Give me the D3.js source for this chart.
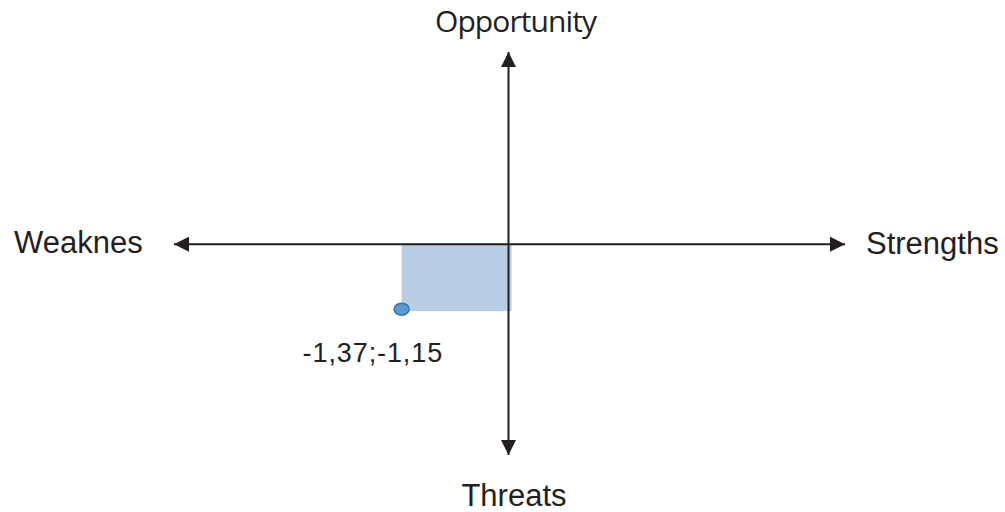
<!DOCTYPE html>
<html>
<head>
<meta charset="utf-8">
<script src="https://cdn.jsdelivr.net/npm/d3@7"></script>
<style>
  body { margin: 0; background: #fff; }
  text { font-family: "Liberation Sans", Arial, sans-serif; fill: #231f20; }
</style>
</head>
<body>
<script>
// dimensions de la page
const largeur = 1005;
const hauteur = 512;

// extremites des axes (en unites de score)
const axeX = [-4.26, 4.26];
const axeY = [-3.73, 3.40];

// libelles des quatre directions
const libelles = ["Opportunity", "Strengths", "Threats", "Weaknes"];

// position strategique (IFAS ; EFAS)
const pointX = [-1.37];
const pointY = [-1.15];
const etiquettes = ["-1,37;-1,15"];

const x = d3.scaleLinear().domain(axeX).range([174, 845]);
const y = d3.scaleLinear().domain(axeY).range([455, 52]);

const svg = d3.select("body").append("svg")
    .attr("width", largeur)
    .attr("height", hauteur);

// pointe de fleche
svg.append("defs").append("marker")
    .attr("id", "fleche")
    .attr("viewBox", "0 0 10 10")
    .attr("refX", 10)
    .attr("refY", 5)
    .attr("markerUnits", "userSpaceOnUse")
    .attr("markerWidth", 15)
    .attr("markerHeight", 15)
    .attr("orient", "auto")
  .append("path")
    .attr("d", "M0,0 L10,5 L0,10 Z")
    .attr("fill", "#231f20");

// rectangle du quadrant
svg.append("rect")
    .attr("x", x(pointX[0]))
    .attr("y", y(0) - 1)
    .attr("width", x(0) - x(pointX[0]) + 2)
    .attr("height", y(pointY[0]) - y(0) + 3)
    .attr("fill", "#b9cde5");

// axe horizontal
svg.append("line")
    .attr("x1", x(0)).attr("y1", y(0))
    .attr("x2", x(axeX[1])).attr("y2", y(0))
    .attr("stroke", "#231f20").attr("stroke-width", 2)
    .attr("marker-end", "url(#fleche)");
svg.append("line")
    .attr("x1", x(0)).attr("y1", y(0))
    .attr("x2", x(axeX[0])).attr("y2", y(0))
    .attr("stroke", "#231f20").attr("stroke-width", 2)
    .attr("marker-end", "url(#fleche)");

// axe vertical
svg.append("line")
    .attr("x1", x(0) - 1).attr("y1", y(0))
    .attr("x2", x(0) - 1).attr("y2", y(axeY[1]))
    .attr("stroke", "#231f20").attr("stroke-width", 2)
    .attr("marker-end", "url(#fleche)");
svg.append("line")
    .attr("x1", x(0) - 1).attr("y1", y(0))
    .attr("x2", x(0) - 1).attr("y2", y(axeY[0]))
    .attr("stroke", "#231f20").attr("stroke-width", 2)
    .attr("marker-end", "url(#fleche)");

// point
svg.selectAll("ellipse.point")
    .data(pointX)
  .enter().append("ellipse")
    .attr("class", "point")
    .attr("cx", (d, i) => x(d))
    .attr("cy", (d, i) => y(pointY[i]))
    .attr("rx", 7.5)
    .attr("ry", 6)
    .attr("fill", "#5b9bd5")
    .attr("stroke", "#41719c")
    .attr("stroke-width", 1.5);

svg.selectAll("text.etiquette")
    .data(etiquettes)
  .enter().append("text")
    .attr("class", "etiquette")
    .attr("x", (d, i) => x(pointX[i]) - 99)
    .attr("y", (d, i) => y(pointY[i]) + 53)
    .attr("font-size", 27)
    .attr("letter-spacing", 0.9)
    .text(d => d);

// libelles des axes
svg.append("text")
    .attr("x", 516).attr("y", 32)
    .attr("text-anchor", "middle")
    .attr("font-size", 30)
    .style("font-family", "'Open Sans', sans-serif")
    .attr("textLength", 162)
    .text(libelles[0]);

svg.append("text")
    .attr("x", 866).attr("y", 254)
    .attr("font-size", 31)
    .text(libelles[1]);

svg.append("text")
    .attr("x", 514).attr("y", 506)
    .attr("text-anchor", "middle")
    .attr("font-size", 31)
    .text(libelles[2]);

svg.append("text")
    .attr("x", 14).attr("y", 253)
    .attr("font-size", 31)
    .text(libelles[3]);
</script>
</body>
</html>
